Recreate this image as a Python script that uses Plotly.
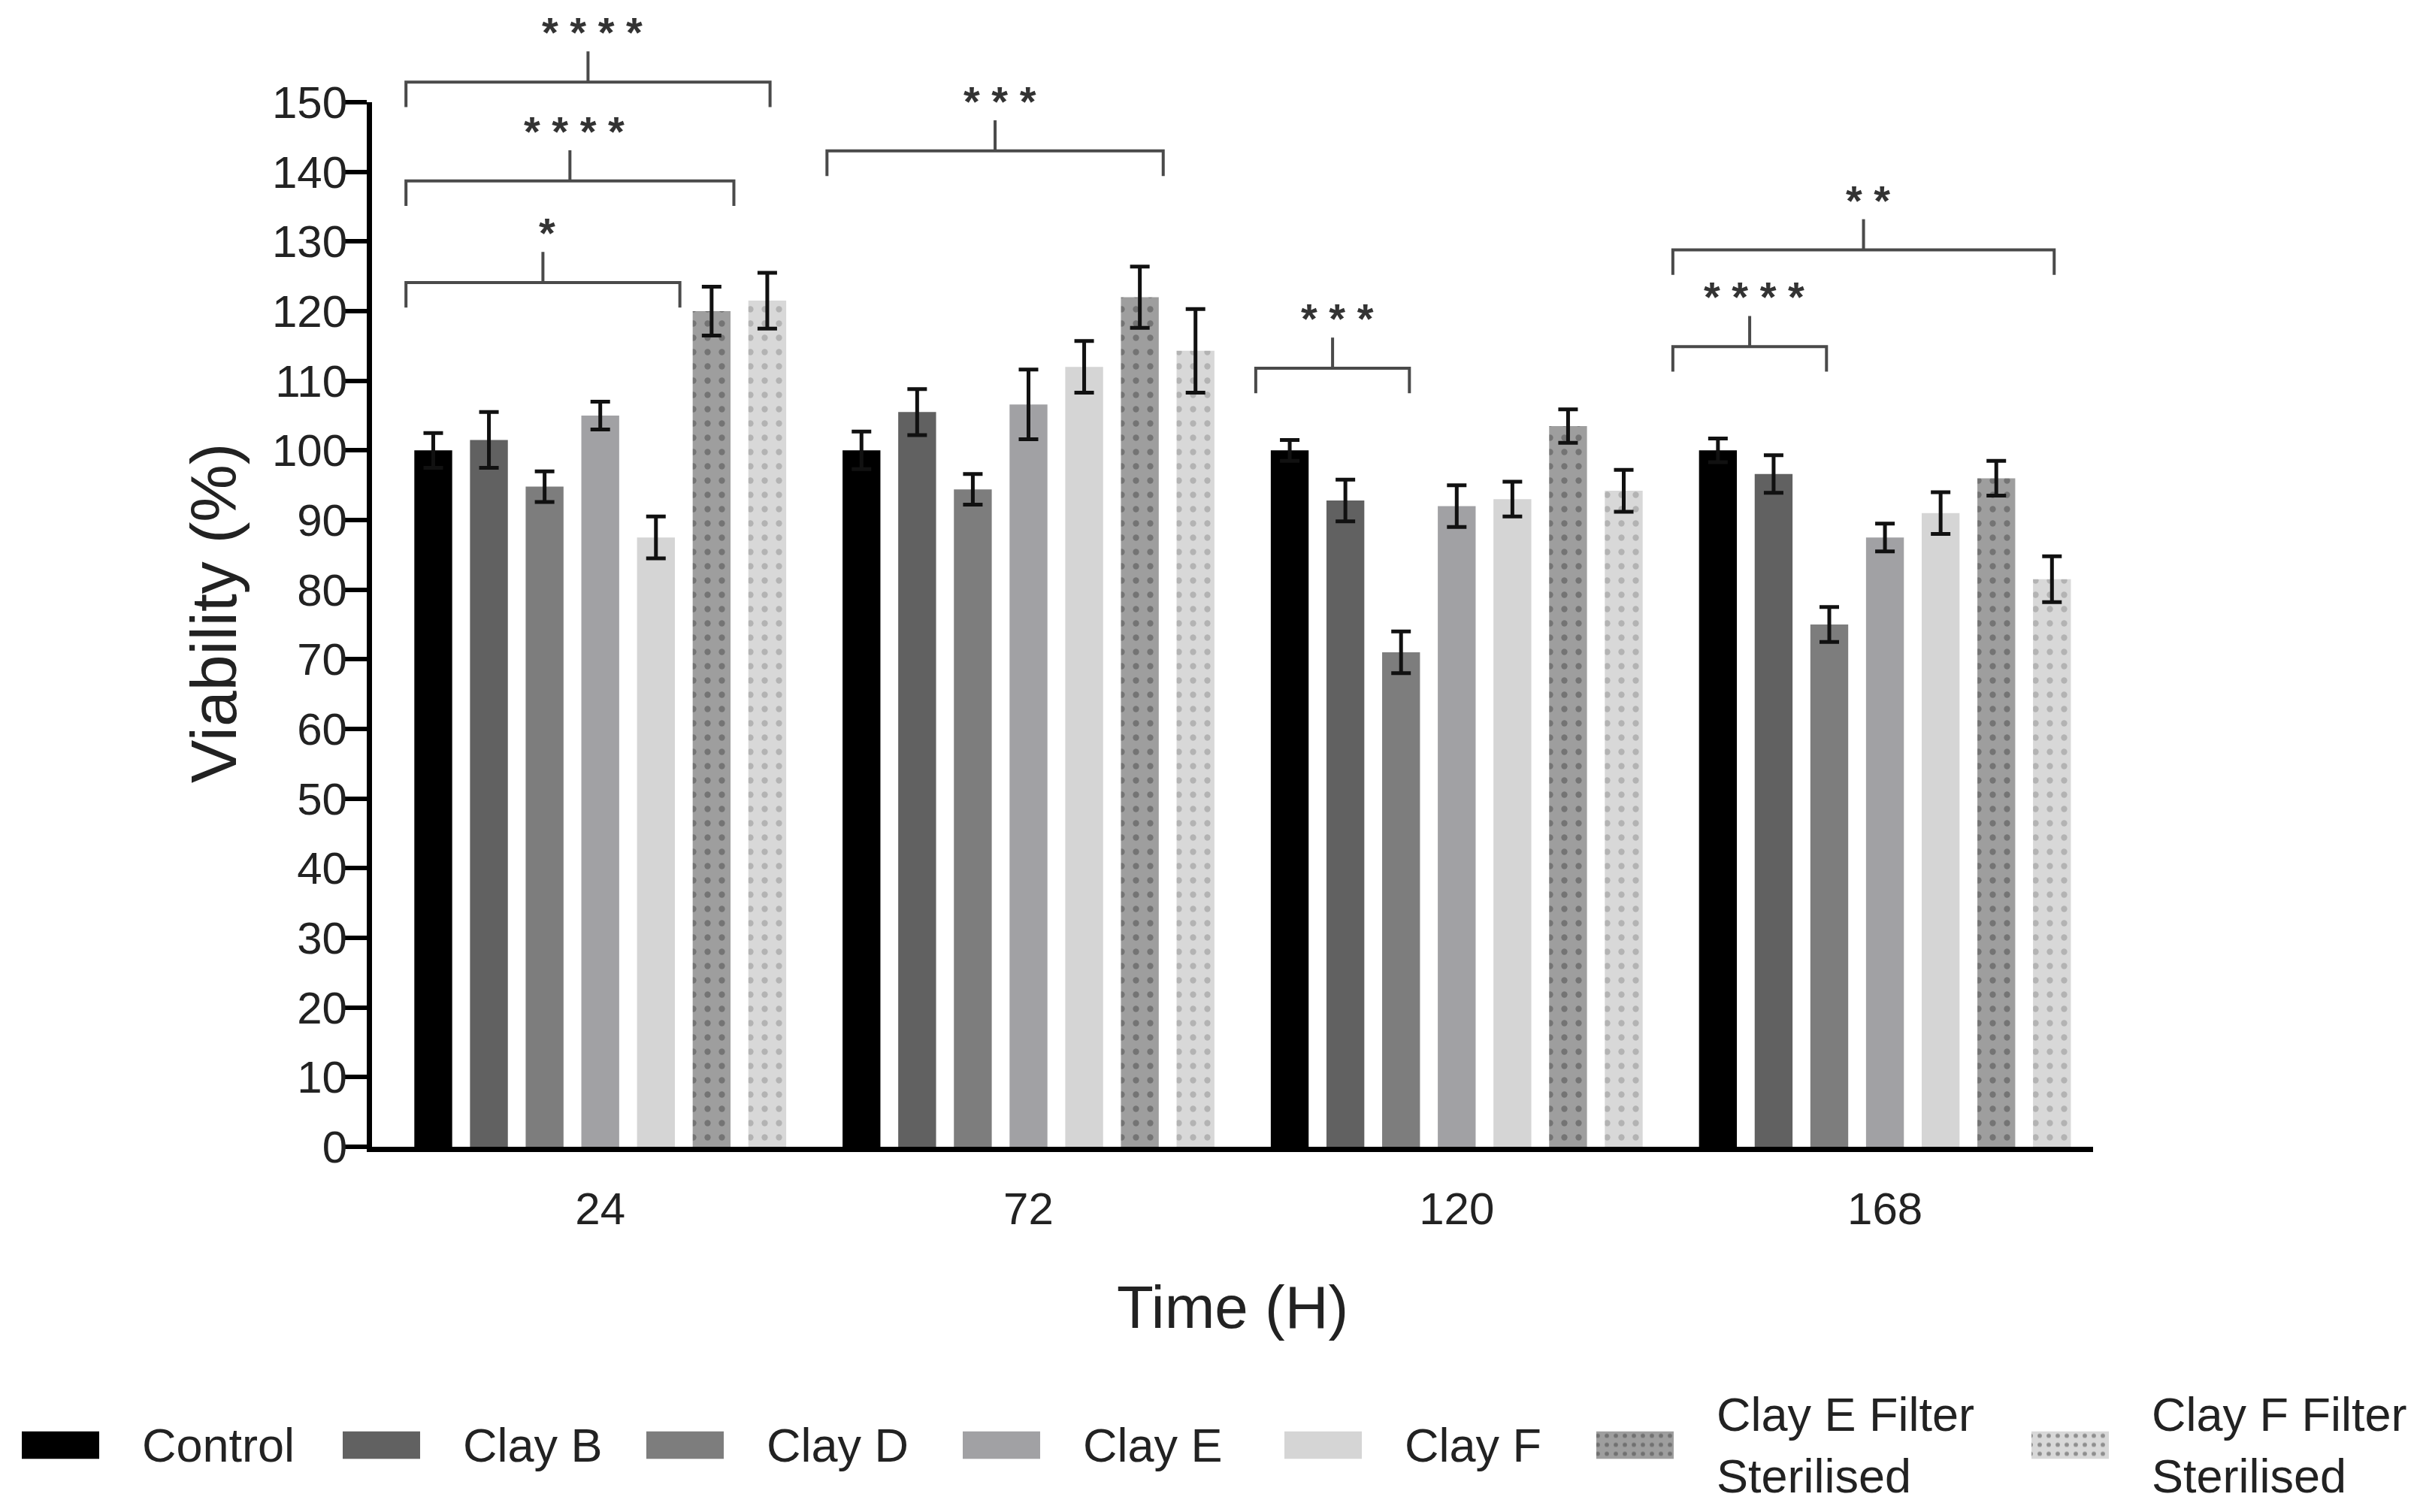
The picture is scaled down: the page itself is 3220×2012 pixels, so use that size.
import plotly.graph_objects as go

# data
times = ["24", "72", "120", "168"]
series = ["Control", "Clay B", "Clay D", "Clay E", "Clay F",
          "Clay E Filter Sterilised", "Clay F Filter Sterilised"]
legend_names = ["Control", "Clay B", "Clay D", "Clay E", "Clay F",
                "Clay E Filter<br>Sterilised", "Clay F Filter<br>Sterilised"]

control = [100, 100, 100, 100]
clay_b = [101.5, 105.5, 92.8, 96.6]
clay_d = [94.8, 94.4, 71.0, 75.0]
clay_e = [105.0, 106.6, 92.0, 87.5]
clay_f = [87.5, 112.0, 93.0, 91.0]
clay_e_fs = [120.0, 122.0, 103.5, 96.0]
clay_f_fs = [121.5, 114.3, 94.2, 81.5]

control_err = [2.5, 2.7, 1.5, 1.7]
clay_b_err = [4.0, 3.3, 3.0, 2.7]
clay_d_err = [2.2, 2.2, 3.0, 2.5]
clay_e_err = [2.0, 5.0, 3.0, 2.0]
clay_f_err = [3.0, 3.7, 2.5, 3.0]
clay_e_fs_err = [3.5, 4.4, 2.4, 2.5]
clay_f_fs_err = [4.0, 6.0, 3.0, 3.3]

# significance brackets: group, left / right bar slot, level, stars
br_group = [0, 0, 0, 1, 2, 3, 3]
br_left = [-0.49, -0.49, -0.49, -0.62, -0.61, -0.81, -0.81]
br_right = [4.43, 5.40, 6.05, 5.42, 2.15, 1.95, 6.04]
br_level = [124.1, 138.7, 152.9, 143.0, 111.8, 114.9, 128.8]
br_label = ["*", "****", "****", "***", "***", "****", "**"]

values = [control, clay_b, clay_d, clay_e, clay_f, clay_e_fs, clay_f_fs]
errors = [control_err, clay_b_err, clay_d_err, clay_e_err, clay_f_err,
          clay_e_fs_err, clay_f_fs_err]

colors = ["#000000", "#616161", "#7d7d7d", "#a1a1a4", "#d5d5d5", "#9e9e9e", "#d8d8d8"]
dots = ["", "", "", "", "", ".", "."]
dot_colors = ["#000000"] * 5 + ["#4a4a4a", "#8e8e8e"]

W, H = 3220, 2012
FONT = "Liberation Sans, Arial, sans-serif"
XD = [487 / W, 2777 / W]
YD = [1 - 1518 / H, 1 - 128 / H]
YMAX = 150
BARGAP = 0.09
SLOT = (1 - BARGAP) / len(series)


def ypaper(v):
    return YD[0] + v / YMAX * (YD[1] - YD[0])


fig = go.Figure()

for i, name in enumerate(series):
    fig.add_trace(go.Bar(
        x=times, y=values[i], name=name, showlegend=False,
        marker=dict(color=colors[i], line=dict(width=0),
                    pattern=dict(shape=dots[i], fillmode="overlay", fgcolor=dot_colors[i],
                                 size=19, solidity=0.15)),
        error_y=dict(type="data", array=errors[i], color="#111111",
                     thickness=5, width=13),
        xaxis="x", yaxis="y",
    ))

# brackets
shapes = []
annotations = []
DROP, RISE = 3.6, 4.4
for g, l, r, lev, lab in zip(br_group, br_left, br_right, br_level, br_label):
    x0 = g + (l - 3) * SLOT
    x1 = g + (r - 3) * SLOT
    xm = (x0 + x1) / 2
    line = dict(color="#4a4a4a", width=4)
    shapes.append(dict(type="path", xref="x", yref="paper", line=line,
                       path="M %f,%f L %f,%f L %f,%f L %f,%f" % (
                           x0, ypaper(lev - DROP), x0, ypaper(lev),
                           x1, ypaper(lev), x1, ypaper(lev - DROP))))
    shapes.append(dict(type="line", xref="x", yref="paper", line=line,
                       x0=xm, x1=xm, y0=ypaper(lev), y1=ypaper(lev + RISE)))
    annotations.append(dict(x=xm, y=ypaper(lev + RISE), xref="x", yref="paper",
                            text="<b>" + " ".join(lab) + "</b>", showarrow=False,
                            yanchor="bottom", yshift=-8, xshift=6,
                            font=dict(size=56, color="#333333", family=FONT)))

# custom legend (wide swatches)
leg_x = [21, 448, 852, 1273, 1701, 2116, 2695]
leg_w = 103
leg_y = 1915
leg_h = 37
fig.add_trace(go.Bar(
    y=[0] * len(series), x=[leg_w] * len(series), base=leg_x, orientation="h",
    width=1, showlegend=False, hoverinfo="skip",
    marker=dict(color=colors, line=dict(width=0),
                pattern=dict(shape=dots, fillmode="overlay", fgcolor=dot_colors,
                             size=12, solidity=0.18)),
    xaxis="x2", yaxis="y2",
))
for xs, nm in zip(leg_x, legend_names):
    annotations.append(dict(x=(xs + 158) / W, y=1 - leg_y / H, xref="paper", yref="paper",
                            text=nm, showarrow=False, xanchor="left", yanchor="middle",
                            align="left", font=dict(size=63, color="#222222", family=FONT)))

# y axis title
annotations.append(dict(x=276 / W, y=1 - 808 / H, xref="paper", yref="paper",
                        text="Viability (%)", textangle=-90, showarrow=False,
                        xanchor="center", yanchor="middle",
                        font=dict(size=86, color="#222222", family=FONT)))

fig.update_layout(
    width=W, height=H,
    margin=dict(l=0, r=0, t=0, b=0),
    template="none",
    paper_bgcolor="white", plot_bgcolor="white",
    barmode="group", bargap=BARGAP, bargroupgap=0.32,
    font=dict(family=FONT, color="#222222"),
    shapes=shapes, annotations=annotations,
    xaxis=dict(domain=XD, type="category", range=[-0.533, 3.486],
               showline=True, linecolor="#000000", linewidth=7, ticks="",
               showgrid=False, zeroline=False, automargin=False,
               tickfont=dict(size=60, color="#222222"), ticklabelstandoff=24,
               title=dict(text="Time (H)", font=dict(size=80, color="#222222"), standoff=72)),
    yaxis=dict(domain=YD, range=[0, YMAX], tickvals=list(range(0, 151, 10)),
               showline=True, linecolor="#000000", linewidth=7,
               ticks="outside", ticklen=30, tickwidth=6, tickcolor="#000000",
               showgrid=False, zeroline=False, automargin=False,
               tickfont=dict(size=60, color="#222222"), ticklabelstandoff=-16),
    xaxis2=dict(domain=[0, 1], range=[0, W], visible=False, fixedrange=True),
    yaxis2=dict(domain=[1 - (leg_y + leg_h / 2) / H, 1 - (leg_y - leg_h / 2) / H],
                range=[-0.5, 0.5], visible=False, fixedrange=True),
)

fig.write_html("out.html")
